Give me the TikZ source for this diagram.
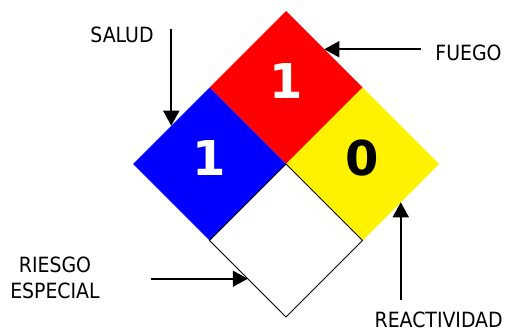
\documentclass[tikz,border=0pt]{standalone}
\usepackage{fontspec}
\setmainfont{DejaVu Sans Condensed}
\newfontfamily\numfont{DejaVu Sans}
\usetikzlibrary{shapes.geometric, arrows.meta, positioning}
\tikzset{
>={Triangle[length=15pt,width=16pt]}, % filled triangle heads
hazard/.style={diamond, aspect=1, minimum size=153pt, inner sep=0pt, outer sep=0pt, text depth=12pt, font=\numfont\bfseries\fontsize{48}{48}\selectfont}, % one quarter of the sign
pointer/.style={->, line width=1.6pt},
tag/.style={font=\fontsize{21}{26}\selectfont, align=center, inner sep=0pt},
}

\begin{document}
\begin{tikzpicture}[x=1pt, y=-1pt]
    \useasboundingbox (0,0) rectangle (508,331);

    % the four quarters
    \node[hazard, fill=red, text=white] (fire) at (286,87.5) {1};
    \node[hazard, fill=blue, text=white, anchor=north] (health) at (fire.west) {1};
    \node[hazard, fill=yellow, anchor=north] (react) at (fire.east) {0};
    \node[hazard, fill=white, draw, line width=1pt, anchor=north] (special) at (health.east) {};

    % labels
    \node[tag] (salud) at (122,34.5) {SALUD};
    \node[tag] (fuego) at (468.5,52.5) {FUEGO};
    \node[tag] (riesgo) at (55,277.5) {RIESGO\\ESPECIAL};
    \node[tag] (reactividad) at (438.7,319.5) {REACTIVIDAD};

    \coordinate (salud-from) at (171.25,29);
    \coordinate (fuego-from) at (421,49.25);
    \coordinate (riesgo-from) at (151,278.75);
    \coordinate (react-from) at (400.75,300);

    \draw[pointer] (salud-from) -- (health.north west);
    \draw[pointer] (fuego-from) -- (fire.north east);
    \draw[pointer] (riesgo-from) -- (special.south west);
    \draw[pointer] (react-from) -- (react.south east);
\end{tikzpicture}
\end{document}
